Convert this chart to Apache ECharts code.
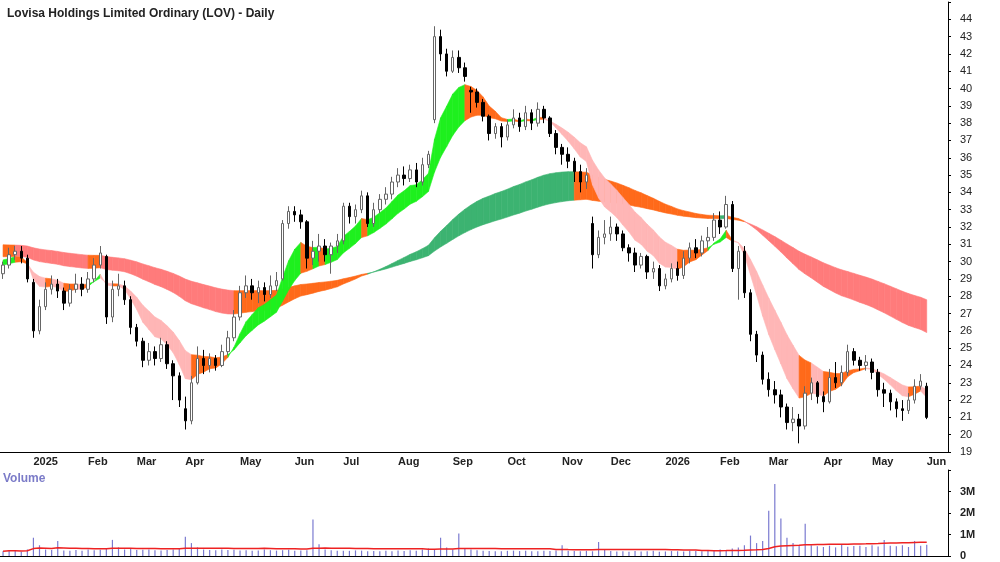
<!DOCTYPE html>
<html><head><meta charset="utf-8">
<script src="https://cdn.jsdelivr.net/npm/echarts@6/dist/echarts.min.js"></script>
<style>html,body{margin:0;padding:0;background:#fff}#c{width:1000px;height:562px}</style>
</head><body><div id="c"></div>
<script>
// OHLC: [open, close, low, high], two candles per week (Tue, Fri)
const ohlc = [
[29.3,29.8,29.0,30.0],[29.8,30.4,29.6,30.8],
[30.4,30.6,30.1,30.9],[30.6,30.2,29.9,30.9],
[30.2,29.0,28.8,30.4],[28.8,26.0,25.6,29.0],
[26.0,27.4,25.8,27.8],[27.4,28.4,27.2,28.8],
[28.4,28.7,28.1,29.2],[28.7,28.3,27.9,29.0],
[28.3,27.6,27.2,28.5],[27.6,28.4,27.4,28.7],
[28.4,28.7,28.2,29.3],[28.7,28.4,28.0,29.1],
[28.4,29.0,28.2,29.4],[29.0,29.8,28.8,30.2],
[29.8,30.5,29.6,30.9],[30.3,26.8,26.4,30.4],
[26.8,28.4,26.5,28.9],[28.4,28.6,28.0,29.3],
[28.6,27.8,27.5,28.9],[27.8,26.2,25.8,28.0],
[26.2,25.4,25.1,26.4],[25.4,24.3,23.9,25.6],
[24.3,24.8,24.0,25.3],[24.8,24.4,24.0,25.1],
[24.4,25.2,24.2,25.6],[25.2,24.1,23.8,25.4],
[24.1,23.4,22.0,24.3],[23.4,22.0,21.6,23.6],
[21.5,20.8,20.3,22.2],[20.8,23.0,20.6,23.4],
[23.0,24.4,22.9,25.1],[24.4,24.0,23.5,24.9],
[24.0,24.4,23.6,24.7],[24.4,24.0,23.7,24.6],
[24.0,24.8,23.9,25.2],[24.8,25.6,24.6,26.0],
[25.6,26.8,25.4,27.2],[26.8,28.2,26.6,28.6],
[28.2,28.6,27.9,29.2],[28.6,28.2,27.8,29.0],
[28.2,28.5,27.6,28.9],[28.5,28.1,27.7,28.8],
[28.1,28.6,27.9,29.2],[28.6,28.9,28.3,29.4],
[29.0,32.2,28.9,32.4],[32.2,32.9,31.9,33.2],
[32.9,32.7,32.3,33.2],[32.7,32.3,31.9,33.0],
[32.3,30.2,29.6,32.4],[30.2,30.6,29.8,31.2],
[30.6,30.9,30.0,31.6],[30.9,30.4,30.0,31.3],
[30.4,30.9,29.3,31.1],[30.9,31.2,30.5,31.6],
[31.2,33.2,31.0,33.4],[33.2,32.6,32.2,33.4],
[32.6,33.0,32.2,33.3],[33.0,33.8,32.8,34.1],
[33.8,32.2,32.0,34.0],[32.2,33.0,32.0,33.4],
[33.0,33.6,32.8,33.9],[33.6,33.9,33.3,34.3],
[33.9,34.6,33.6,34.9],[34.6,35.0,34.3,35.4],
[35.0,34.8,34.4,35.5],[34.8,35.3,34.6,35.6],
[35.3,34.6,34.3,35.7],[34.6,35.6,34.4,36.0],
[35.6,36.2,35.4,36.4],[38.2,43.0,38.0,43.6],
[43.0,42.0,41.6,43.4],[42.0,41.0,40.7,42.3],
[41.0,41.8,40.9,42.2],[41.8,41.2,40.9,42.2],
[41.2,40.7,40.4,41.5],[39.9,39.8,38.6,40.1],
[39.8,39.2,38.9,40.0],[39.2,38.4,38.1,39.4],
[38.4,37.4,37.0,38.5],[37.4,37.8,37.1,38.0],
[37.8,37.2,36.6,38.0],[37.2,37.9,37.0,38.2],
[37.9,38.3,37.7,38.8],[38.3,37.8,37.5,38.6],
[37.8,38.6,37.6,39.0],[38.6,38.0,37.6,38.8],
[38.0,38.8,37.8,39.2],[38.8,38.3,38.0,39.0],
[38.3,37.4,37.2,38.4],[37.4,36.6,36.2,37.6],
[36.6,36.2,35.6,36.8],[36.2,35.8,35.4,36.6],
[35.8,35.2,34.6,36.0],[35.2,34.6,34.0,35.6],
[34.6,35.0,34.2,35.4],[32.2,30.4,29.6,32.6],
[30.4,31.4,30.2,31.8],[31.4,31.6,31.0,32.4],
[31.6,32.0,31.2,32.6],[32.0,31.6,31.2,32.2],
[31.6,30.8,30.6,31.8],[30.8,30.5,30.0,31.0],
[30.5,29.8,29.4,30.8],[29.8,30.3,29.6,30.5],
[30.3,29.4,29.0,30.4],[29.4,29.6,29.0,30.0],
[29.6,28.6,28.3,29.8],[28.6,29.0,28.4,29.3],
[29.0,29.6,28.8,29.9],[29.6,29.2,28.9,30.0],
[29.2,30.2,29.0,30.6],[30.2,30.8,29.9,31.1],
[30.8,30.5,30.2,31.3],[30.5,31.2,30.3,31.5],
[31.2,31.4,30.8,32.0],[31.4,32.4,31.2,32.8],
[32.4,32.0,31.6,32.9],[32.0,33.3,31.9,33.8],
[33.3,29.6,29.4,33.5],[29.6,30.6,27.8,30.9],
[30.6,28.2,27.9,30.9],[28.2,25.8,25.4,28.4],
[25.8,24.6,24.2,26.0],[24.6,23.2,22.9,24.8],
[23.2,22.6,22.2,23.6],[22.6,22.3,21.8,23.1],
[22.3,21.6,21.0,22.6],[21.6,20.7,20.3,21.8],
[20.7,20.9,20.2,21.6],[20.9,20.5,19.5,21.2],
[20.5,22.4,20.3,22.8],[22.4,23.0,22.0,23.3],
[23.0,22.2,21.8,23.1],[22.2,21.9,21.3,22.5],
[21.9,23.3,21.8,23.8],[23.3,23.0,22.7,24.2],
[23.0,23.6,22.8,24.0],[23.6,24.8,23.4,25.2],
[24.8,24.3,24.0,25.0],[24.3,24.0,23.7,24.5],
[24.0,24.2,23.7,24.6],[24.2,23.6,23.2,24.4],
[23.6,22.6,22.2,23.8],[22.6,22.4,21.6,23.0],
[22.4,21.9,21.4,22.6],[21.9,21.5,21.0,22.1],
[21.5,21.4,20.8,22.0],[21.4,22.0,21.2,22.4],
[22.0,22.8,21.8,23.2],[22.8,23.1,22.6,23.5],
[22.8,21.0,20.9,23.0]
];
// volume (thousands) per candle
const volumeK = [
220,260,240,200,300,850,500,300,280,700,260,240,280,240,300,270,290,320,750,400,
300,350,280,290,300,270,260,280,300,350,900,600,400,300,280,270,300,280,290,260,
270,240,260,300,270,250,270,290,240,260,270,1700,550,300,270,250,240,240,260,250,
220,230,220,240,220,260,230,270,250,300,350,280,850,400,300,1050,350,300,270,250,
230,220,220,240,250,230,240,220,220,240,230,260,500,250,230,220,240,220,650,300,
230,210,220,200,230,210,220,240,200,210,230,220,210,250,230,220,260,240,300,280,
350,400,500,950,600,700,2100,3350,1750,850,600,500,1500,500,450,420,480,400,520,430,
460,480,420,500,440,750,480,450,500,420,700,480,520
];
// seeds of the indicator bands at the left edge
const shortSeed = [30.2, 29.8];
const longSeed = [30.3, 31.0];
const shortPeriods = [7, 15];    // in candles
const longPeriods = [55, 95];
const priceTicks = [19,20,21,22,23,24,25,26,27,28,29,30,31,32,33,34,35,36,37,38,39,40,41,42,43,44];
const volumeTicks = ['0','1M','2M','3M'];
const title = 'Lovisa Holdings Limited Ordinary (LOV) - Daily';

// category dates
const dates = [];
(function(){
  let d = new Date(Date.UTC(2024,11,17));
  const end = new Date(Date.UTC(2026,4,29));
  while (d <= end) {
    dates.push(d.toISOString().slice(0,10));
    const f = new Date(d.getTime()+3*864e5);
    dates.push(f.toISOString().slice(0,10));
    d = new Date(d.getTime()+7*864e5);
  }
  ['2026-06-01','2026-06-02','2026-06-03','2026-06-04'].forEach(s=>dates.push(s));
})();
const monthNames=['Jan','Feb','Mar','Apr','May','Jun','Jul','Aug','Sep','Oct','Nov','Dec'];
function isMonthStart(i){ return i>0 && dates[i].slice(5,7)!==dates[i-1].slice(5,7); }
function monthLabel(v){ const m=+v.slice(5,7); return m===1? v.slice(0,4) : monthNames[m-1]; }

const closes = ohlc.map(r=>r[1]);
function ema(p, seed){ const k=2/(p+1); let e=seed; return closes.map(c=>(e=e+k*(c-e))); }
const sF=ema(shortPeriods[0],shortSeed[0]), sS=ema(shortPeriods[1],shortSeed[1]);
const lF=ema(longPeriods[0],longSeed[0]), lS=ema(longPeriods[1],longSeed[1]);
function bandData(f,s){
  const out=[];
  for(let i=0;i<f.length-1;i++){
    const up = f[i+1]>s[i+1] && f[i+1]>=f[i];
    const dn = f[i+1]<s[i+1] && f[i+1]<=f[i];
    out.push([i,f[i],s[i],f[i+1],s[i+1], up?1:(dn?-1:0)]);
  }
  return out;
}
function bandSeries(data, cols){
  return {type:'custom', xAxisIndex:0, yAxisIndex:0, z:1, silent:true, clip:true,
    encode:{x:0,y:[1,2]}, data,
    renderItem:(p,api)=>{
      const i=api.value(0);
      const pts=[api.coord([i,api.value(1)]),api.coord([i+1,api.value(3)]),api.coord([i+1,api.value(4)]),api.coord([i,api.value(2)])];
      const st=api.value(5);
      const c= st===1?cols[0]:(st===-1?cols[2]:cols[1]);
      return {type:'polygon', shape:{points:pts}, style:{fill:c, stroke:c, lineWidth:0.6}};
    }};
}
// volume moving average
const volMA = volumeK.map((v,i)=>{ const a=volumeK.slice(Math.max(0,i-39),i+1); return a.reduce((s,x)=>s+x,0)/a.length*1000; });

const chart = echarts.init(document.getElementById('c'));
const axisFont = {fontFamily:'Arial, Liberation Sans', fontSize:11, color:'#222'};
chart.setOption({
  animation:false,
  backgroundColor:'#fff',
  title:{text:title, left:2, top:3, textStyle:{fontFamily:'Arial, Liberation Sans', fontSize:12, fontWeight:'bold', color:'#222'}},
  graphic:[{type:'text', left:3, top:473, style:{text:'Volume', fill:'#7b7bc8', font:'bold 12px Arial, Liberation Sans'}}],
  grid:[{left:0,right:52,top:2,bottom:110},{left:0,right:52,top:470,bottom:6}],
  xAxis:[
    {type:'category', gridIndex:0, data:dates, boundaryGap:true,
     axisLine:{lineStyle:{color:'#000'}},
     axisTick:{interval:(i)=>isMonthStart(i), length:4, lineStyle:{color:'#000'}},
     axisLabel:Object.assign({interval:(i)=>isMonthStart(i), formatter:monthLabel, align:'left', margin:4, fontWeight:'bold'}, axisFont),
     splitLine:{show:false}},
    {type:'category', gridIndex:1, data:dates, boundaryGap:true,
     axisLine:{lineStyle:{color:'#000'}}, axisTick:{show:false}, axisLabel:{show:false}}
  ],
  yAxis:[
    {type:'value', gridIndex:0, position:'right', min:19, max:45, interval:1, scale:true,
     axisLine:{show:true, lineStyle:{color:'#000'}}, axisTick:{show:true,length:3},
     splitLine:{show:false},
     axisLabel:Object.assign({margin:12, formatter:v=>priceTicks.indexOf(v)>=0?String(v):''}, axisFont)},
    {type:'value', gridIndex:1, position:'right', min:0, max:4000000, interval:1000000,
     axisLine:{show:true, lineStyle:{color:'#000'}}, axisTick:{show:true,length:3},
     splitLine:{show:false},
     axisLabel:Object.assign({margin:12, fontWeight:'bold', formatter:v=>volumeTicks[Math.round(v/1e6)]||''}, axisFont)}
  ],
  series:[
    bandSeries(bandData(lF,lS), ['#3cb371','#ff6a1a','#ff7b7b']),
    bandSeries(bandData(sF,sS), ['#1ef01e','#ff6a1a','#ffb6b6']),
    {type:'candlestick', xAxisIndex:0, yAxisIndex:0, z:3, data:ohlc, barMaxWidth:3,
     itemStyle:{color:'#ffffff', color0:'#000000', borderColor:'#666666', borderColor0:'#000000', borderWidth:1}},
    {type:'bar', xAxisIndex:1, yAxisIndex:1, data:volumeK.map(v=>v*1000), barWidth:1.2,
     itemStyle:{color:'#7a7ad0'}},
    {type:'line', xAxisIndex:1, yAxisIndex:1, data:volMA, symbol:'none', smooth:false,
     lineStyle:{color:'#ee2222', width:1.5}}
  ]
});
</script></body></html>
